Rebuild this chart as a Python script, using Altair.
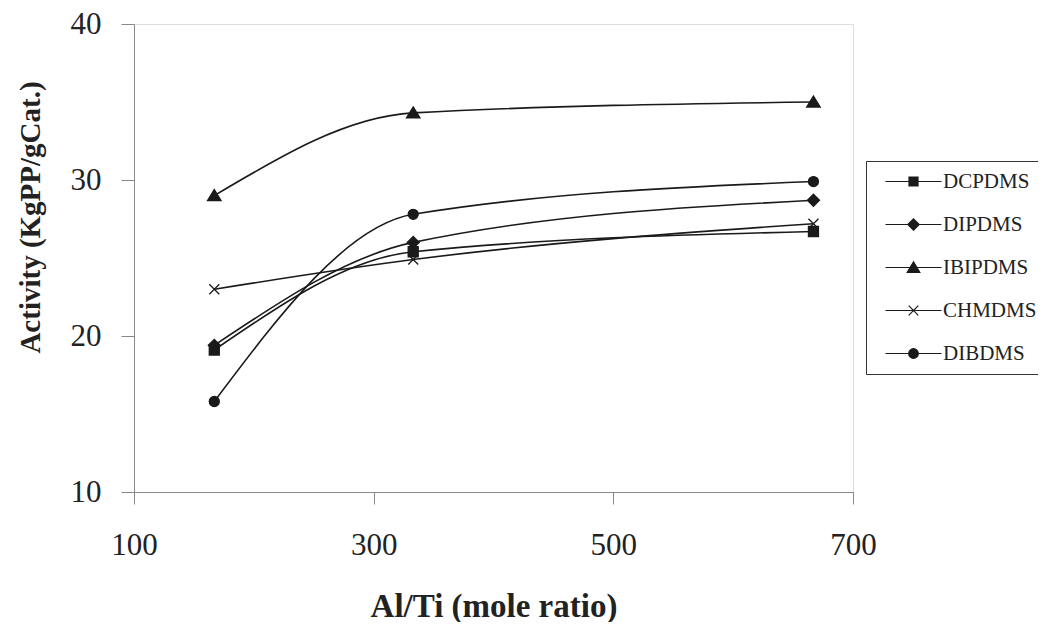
import altair as alt
import pandas as pd

ratio = [167, 333, 667]
series_names = ["DCPDMS", "DIPDMS", "IBIPDMS", "CHMDMS", "DIBDMS"]
dcpdms = [19.1, 25.4, 26.7]
dipdms = [19.4, 26.0, 28.7]
ibipdms = [29.0, 34.3, 35.0]
chmdms = [23.0, 24.9, 27.2]
dibdms = [15.8, 27.8, 29.9]
x_ticks = [100, 300, 500, 700]
y_ticks = [10, 20, 30, 40]

rows = []
for name, vals in zip(series_names, [dcpdms, dipdms, ibipdms, chmdms, dibdms]):
    for r, v in zip(ratio, vals):
        rows.append({"ratio": r, "activity": v, "series": name})
df = pd.DataFrame(rows)

FONT = "Liberation Serif"
INK = "#1a1a1a"

# marker shapes (unit = sqrt(size)/2 px)
marker_paths = [
    "M-1,-1H1V1H-1Z",
    "M0,-1.2L1.2,0L0,1.2L-1.2,0Z",
    "M0,-1.2L1.35,1L-1.35,1Z",
    "M-1,-1L1,1M-1,1L1,-1",
    "M-1,0A1,1,0,1,0,1,0A1,1,0,1,0,-1,0Z",
]
# legend symbols: line through marker
legend_paths = [
    "M-4.67,0H4.67M-0.75,-0.75H0.75V0.75H-0.75Z",
    "M-4.67,0H4.67M0,-0.95L0.95,0L0,0.95L-0.95,0Z",
    "M-4.67,0H4.67M0,-0.95L1.05,0.8L-1.05,0.8Z",
    "M-4.67,0H4.67M-0.8,-0.8L0.8,0.8M-0.8,0.8L0.8,-0.8",
    "M-4.67,0H4.67M-0.8,0A0.8,0.8,0,1,0,0.8,0A0.8,0.8,0,1,0,-0.8,0Z",
]

x_enc = alt.X(
    "ratio:Q",
    scale=alt.Scale(domain=[100, 700], nice=False, zero=False),
    axis=alt.Axis(
        values=x_ticks, title="Al/Ti (mole ratio)", grid=False,
        tickSize=12, labelPadding=26, labelFontSize=31, titlePadding=30,
        titleFontSize=33, labelFlush=False,
        labelFont=FONT, titleFont=FONT, titleFontWeight="bold",
        labelColor="#222", titleColor="#222",
    ),
)
y_enc = alt.Y(
    "activity:Q",
    scale=alt.Scale(domain=[10, 40], nice=False, zero=False),
    axis=alt.Axis(
        values=y_ticks, title="Activity (KgPP/gCat.)", grid=False,
        tickSize=13, labelPadding=20, labelFontSize=31, titlePadding=25,
        titleFontSize=29, titleY=193,
        labelFont=FONT, titleFont=FONT, titleFontWeight="bold",
        labelColor="#222", titleColor="#222",
    ),
)

lines = alt.Chart(df).mark_line(
    interpolate="monotone", color=INK, strokeWidth=1.6
).encode(x=x_enc, y=y_enc, detail="series:N")

points = alt.Chart(df).mark_point(
    filled=True, fill=INK, stroke=INK, strokeWidth=1.3, opacity=1, size=100
).encode(
    x=x_enc, y=y_enc,
    shape=alt.Shape("series:N", scale=alt.Scale(domain=series_names, range=marker_paths), legend=None),
)

legend_spec = alt.Legend(
    title=None, orient="none", legendX=732, legendY=137,
    symbolSize=144, symbolOffset=27, labelOffset=19,
    symbolFillColor=INK, symbolStrokeColor=INK, symbolStrokeWidth=1.2,
    labelFont=FONT, labelFontSize=21, labelColor="#222",
    rowPadding=21, padding=10, strokeColor="#333", fillColor="white",
    cornerRadius=0,
)

legend_layer = alt.Chart(df).transform_filter("false").mark_point(
    filled=True, fill=INK, strokeWidth=1.2, opacity=1
).encode(
    x=x_enc, y=y_enc,
    shape=alt.Shape(
        "series:N",
        scale=alt.Scale(domain=series_names, range=legend_paths),
        legend=legend_spec,
    ),
    stroke=alt.Stroke(
        "series:N",
        scale=alt.Scale(domain=series_names, range=[INK] * len(series_names)),
        legend=legend_spec,
    ),
)

chart = alt.layer(lines, points, legend_layer).resolve_scale(
    shape="independent", stroke="independent"
).properties(
    width=719, height=468,
    padding={"left": 126, "top": 16, "right": 185, "bottom": 130},
    autosize=alt.AutoSizeParams(type="none"),
).configure_view(
    stroke="#333", strokeWidth=1.6
).configure_axis(
    domainColor="#333", domainWidth=1.6, tickColor="#333", tickWidth=1.2,
).configure(background="white")

chart.save("out.html", embed_options={"renderer": "svg", "actions": False})
